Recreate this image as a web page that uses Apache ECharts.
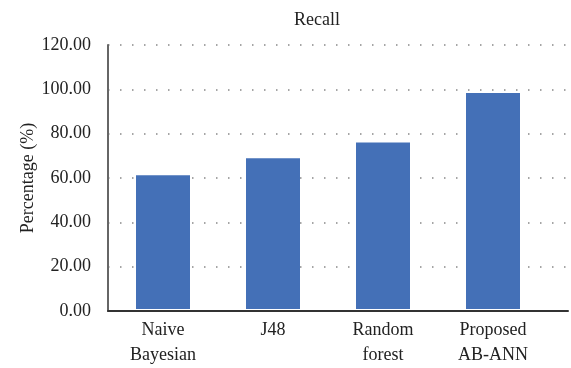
<!DOCTYPE html>
<html>
<head>
<meta charset="utf-8">
<script src="https://cdn.jsdelivr.net/npm/echarts@6/dist/echarts.min.js"></script>
<style>
  html, body { margin: 0; padding: 0; background: #fff; }
  #chart { width: 571px; height: 368px; }
</style>
</head>
<body>
<div id="chart"></div>
<script>
// data
const categories = ['Naive\nBayesian', 'J48', 'Random\nforest', 'Proposed\nAB-ANN']
const recall = [60.8, 68.5, 75.7, 98.2]
const yMin = 0
const yMax = 120
const yStep = 20

const font = 'Liberation Serif'
const textColor = '#222'

var chartDom = document.getElementById('chart')
var myChart = echarts.init(chartDom)

const option = {
  animation: false,
  title: {
    text: 'Recall',
    left: 289,
    top: 6,
    textStyle: { fontFamily: font, fontSize: 18, fontWeight: 'normal', color: textColor }
  },
  // grid 0 holds the bars, grid 1 the frame (axis lines, gridlines, y labels)
  grid: [
    { left: 108, right: 23, top: 45, bottom: 56 },
    { left: 108, right: 3, top: 45, bottom: 57 }
  ],
  xAxis: [
    {
      gridIndex: 0,
      type: 'category',
      data: categories,
      axisLine: { show: false },
      axisTick: { show: false },
      axisLabel: {
        margin: 9,
        fontFamily: font,
        fontSize: 18,
        lineHeight: 25,
        color: textColor
      }
    },
    {
      gridIndex: 1,
      type: 'value',
      min: 0,
      max: 1,
      axisLine: { show: true, lineStyle: { color: '#333', width: 2 } },
      axisTick: { show: false },
      axisLabel: { show: false },
      splitLine: { show: false }
    }
  ],
  yAxis: [
    {
      gridIndex: 0,
      type: 'value',
      min: yMin,
      max: yMax,
      interval: yStep,
      show: false
    },
    {
      gridIndex: 1,
      type: 'value',
      min: yMin,
      max: yMax,
      interval: yStep,
      name: 'Percentage (%)',
      nameLocation: 'middle',
      nameGap: 71,
      nameMoveOverlap: false,
      nameTextStyle: { fontFamily: font, fontSize: 18, color: textColor },
      axisLine: { show: true, lineStyle: { color: '#666', width: 2 } },
      axisTick: { show: false },
      axisLabel: {
        margin: 17,
        fontFamily: font,
        fontSize: 18,
        color: textColor,
        formatter: v => v.toFixed(2)
      },
      splitLine: {
        show: true,
        lineStyle: { color: '#888', width: 1.5, type: [1.5, 10.5] }
      }
    }
  ],
  series: [
    {
      type: 'bar',
      xAxisIndex: 0,
      yAxisIndex: 0,
      data: recall,
      barWidth: 54,
      itemStyle: { color: '#4470B7' }
    }
  ]
}

option && myChart.setOption(option)
</script>
</body>
</html>
